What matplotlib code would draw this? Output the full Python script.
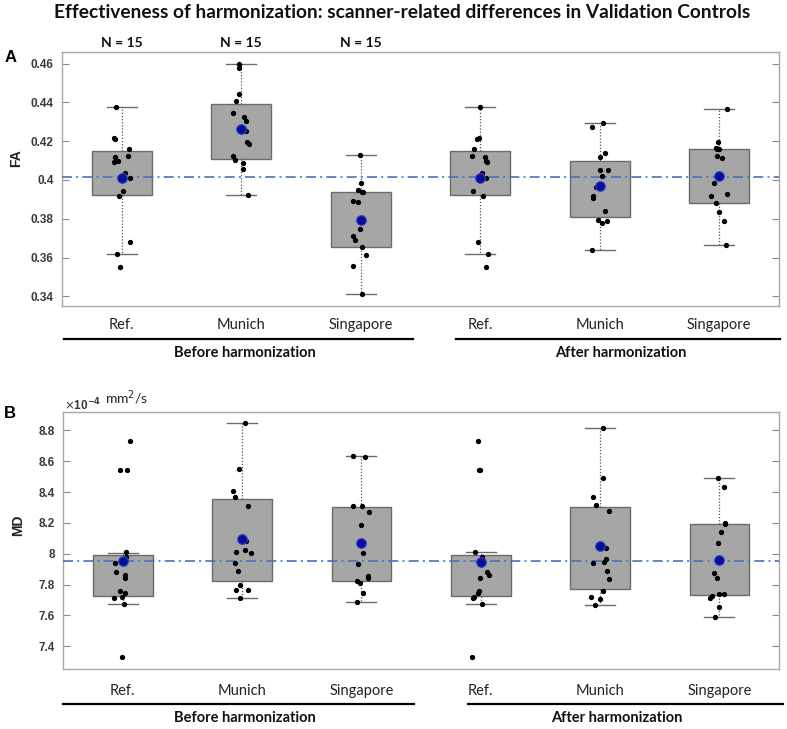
import matplotlib
matplotlib.use('Agg')
import matplotlib.pyplot as plt
from matplotlib.lines import Line2D
import matplotlib.transforms as mtransforms

# ---------------- data ----------------
categories = ["Ref.", "Munich", "Singapore", "Ref.", "Munich", "Singapore"]
groups = ["Before harmonization", "After harmonization"]
n_labels = ["N = 15", "N = 15", "N = 15"]

# FA values
fa_ref = [0.4375, 0.4214, 0.4209, 0.4159, 0.4124, 0.4116, 0.4097, 0.4092, 0.4037, 0.4009, 0.3944, 0.3917, 0.3680, 0.3620, 0.3551]
fa_mun_before = [0.4600, 0.4579, 0.4444, 0.4409, 0.4344, 0.4327, 0.4305, 0.4251, 0.4197, 0.4184, 0.4123, 0.4102, 0.4087, 0.4054, 0.3923]
fa_sin_before = [0.4128, 0.3984, 0.3949, 0.3939, 0.3937, 0.3894, 0.3884, 0.3793, 0.3748, 0.3712, 0.3688, 0.3656, 0.3614, 0.3558, 0.3414]
fa_mun_after = [0.4293, 0.4275, 0.4138, 0.4118, 0.4052, 0.4051, 0.4023, 0.3965, 0.3917, 0.3905, 0.3841, 0.3796, 0.3790, 0.3778, 0.3638]
fa_sin_after = [0.4368, 0.4198, 0.4164, 0.4162, 0.4160, 0.4123, 0.4112, 0.4021, 0.3982, 0.3929, 0.3917, 0.3879, 0.3836, 0.3790, 0.3664]

# FA box stats: q1, q3, whisker low, whisker high, mean
fa_q1 = [0.3920, 0.4107, 0.3656, 0.3920, 0.3808, 0.3879]
fa_q3 = [0.4148, 0.4392, 0.3939, 0.4148, 0.4100, 0.4162]
fa_lo = [0.3620, 0.3923, 0.3414, 0.3620, 0.3638, 0.3664]
fa_hi = [0.4375, 0.4600, 0.4128, 0.4375, 0.4293, 0.4368]
fa_mean = [0.4009, 0.4262, 0.3793, 0.4009, 0.3970, 0.4021]
fa_refline = 0.4016

# MD values (x 1e-4 mm^2/s)
md_ref = [8.729, 8.545, 8.540, 8.010, 7.976, 7.943, 7.883, 7.863, 7.841, 7.761, 7.744, 7.722, 7.714, 7.677, 7.331]
md_mun_before = [8.848, 8.547, 8.408, 8.365, 8.311, 8.086, 8.025, 8.010, 8.004, 7.937, 7.889, 7.800, 7.766, 7.766, 7.716]
md_sin_before = [8.633, 8.629, 8.311, 8.307, 8.272, 8.185, 8.073, 8.006, 7.932, 7.854, 7.846, 7.826, 7.809, 7.746, 7.686]
md_mun_after = [8.817, 8.488, 8.367, 8.313, 8.279, 8.038, 7.969, 7.947, 7.943, 7.887, 7.835, 7.757, 7.722, 7.705, 7.670]
md_sin_after = [8.488, 8.430, 8.198, 8.192, 8.140, 8.069, 7.958, 7.878, 7.841, 7.742, 7.742, 7.729, 7.716, 7.653, 7.593]

md_q1 = [7.729, 7.822, 7.826, 7.729, 7.774, 7.733]
md_q3 = [7.993, 8.352, 8.304, 7.993, 8.304, 8.192]
md_lo = [7.677, 7.716, 7.686, 7.677, 7.670, 7.593]
md_hi = [8.008, 8.848, 8.633, 8.010, 8.817, 8.488]
md_mean = [7.950, 8.097, 8.073, 7.947, 8.049, 7.958]
md_refline = 7.950

# horizontal jitter of the dots
jit_fa = [
    [-0.044, -0.067, -0.056, 0.058, 0.053, -0.056, -0.033, -0.067, 0.031, 0.072, 0.011, -0.019, 0.067, -0.042, -0.011],
    [-0.019, -0.019, -0.017, -0.042, -0.067, 0.025, 0.036, 0.042, 0.050, 0.069, -0.069, -0.053, 0.014, 0.014, 0.058],
    [-0.006, 0.003, -0.022, 0.022, 0.011, -0.061, -0.022, 0.0, -0.006, -0.064, -0.047, 0.014, 0.044, -0.067, 0.014],
    [0.0, -0.014, -0.028, -0.053, -0.069, 0.039, 0.050, 0.053, 0.011, 0.050, -0.058, 0.025, -0.019, 0.069, 0.044],
    [0.025, -0.064, 0.042, 0.0, 0.067, 0.0, 0.019, -0.033, -0.056, -0.053, 0.042, -0.014, 0.061, 0.022, -0.067],
    [0.061, -0.008, -0.031, -0.003, -0.017, -0.017, 0.022, 0.0, -0.044, 0.067, -0.072, -0.025, -0.006, 0.039, 0.058],
]
jit_md = [
    [0.058, -0.025, 0.039, 0.031, 0.025, -0.067, -0.058, 0.017, 0.017, -0.025, 0.022, -0.006, -0.072, 0.014, -0.003],
    [0.028, -0.022, -0.075, -0.056, 0.053, 0.036, 0.025, -0.047, 0.072, -0.058, -0.033, -0.019, -0.053, 0.053, -0.014],
    [-0.069, 0.031, 0.008, -0.072, 0.061, -0.003, 0.0, 0.017, -0.031, 0.058, 0.053, -0.036, -0.014, 0.011, -0.036],
    [-0.019, -0.017, -0.003, -0.050, 0.008, 0.003, 0.050, 0.067, -0.003, -0.011, -0.019, -0.056, -0.061, 0.011, -0.069],
    [0.025, 0.028, -0.056, -0.033, 0.072, 0.053, 0.050, 0.036, -0.056, 0.058, 0.072, 0.025, -0.075, 0.0, -0.044],
    [-0.008, 0.042, 0.044, 0.047, 0.017, -0.011, 0.0, -0.044, -0.022, 0.0, 0.042, -0.058, -0.075, -0.006, -0.033],
]

fa_sets = [fa_ref, fa_mun_before, fa_sin_before, fa_ref, fa_mun_after, fa_sin_after]
md_sets = [md_ref, md_mun_before, md_sin_before, md_ref, md_mun_after, md_sin_after]

# ---------------- figure ----------------
W, H = 787, 729
fig = plt.figure(figsize=(W / 100, H / 100), dpi=100)

def fx(x):
    return x / W

def fy(y):
    return 1 - y / H

LABEL_FONT = ['Lato', 'DejaVu Sans']
TICK_FONT = ['Liberation Sans', 'DejaVu Sans']

axA = fig.add_axes([fx(62), fy(306), (779 - 62) / W, (306 - 52) / H])
axB = fig.add_axes([fx(63), fy(669), (779 - 63) / W, (669 - 412) / H])

positions = [1, 2, 3, 4, 5, 6]


def draw_panel(ax, sets, jits, q1, q3, lo, hi, mean, refline, ylim, yticks, yticklabels):
    stats = []
    for i in range(len(sets)):
        stats.append(dict(med=mean[i], q1=q1[i], q3=q3[i], whislo=lo[i], whishi=hi[i],
                          mean=mean[i], fliers=[]))
    ax.bxp(stats, positions=positions, widths=0.5, patch_artist=True,
           showmeans=False, showfliers=False,
           boxprops=dict(facecolor='#a6a6a6', edgecolor='#6b6b6b', linewidth=1.0),
           medianprops=dict(linewidth=0),
           whiskerprops=dict(color='#555555', linestyle=(0, (1, 1.5)), linewidth=0.9),
           capprops=dict(color='#6b6b6b', linewidth=1.0), capwidths=0.25)
    ax.axhline(refline, color='#4a72b8', linestyle=(0, (6, 2.5, 1.2, 2.5)), linewidth=1.2, zorder=3)
    for i, vals in enumerate(sets):
        xs = [positions[i] + j for j in jits[i]]
        ax.plot(xs, vals, 'o', color='black', markersize=2.8, linestyle='none', zorder=4)
    ax.plot(positions, mean, 'o', markerfacecolor='#0b0b9c', markeredgecolor='#3447c4',
            markersize=7, markeredgewidth=0.8, linestyle='none', zorder=5)
    ax.set_xlim(0.5, 6.5)
    ax.set_ylim(*ylim)
    ax.set_yticks(yticks)
    ax.set_yticklabels(yticklabels, fontfamily=TICK_FONT, fontweight='bold', fontsize=8.5, color='#3a3a3a')
    ax.set_xticks([])
    ax.tick_params(axis='y', direction='in', length=5, color='#8a8a8a', right=True, pad=6)
    for s in ax.spines.values():
        s.set_color('#a8a8a8')
        s.set_linewidth(1.0)


draw_panel(axA, fa_sets, jit_fa, fa_q1, fa_q3, fa_lo, fa_hi, fa_mean, fa_refline,
           (0.335, 0.466), [0.34, 0.36, 0.38, 0.40, 0.42, 0.44, 0.46],
           ['0.34', '0.36', '0.38', '0.4', '0.42', '0.44', '0.46'])
draw_panel(axB, md_sets, jit_md, md_q1, md_q3, md_lo, md_hi, md_mean, md_refline,
           (7.253, 8.919), [7.4, 7.6, 7.8, 8.0, 8.2, 8.4, 8.6, 8.8],
           ['7.4', '7.6', '7.8', '8', '8.2', '8.4', '8.6', '8.8'])

# category labels under boxes
for ax, ypx, bot, top in [(axA, 325, 306, 52), (axB, 691, 669, 412)]:
    trans = mtransforms.blended_transform_factory(ax.transData, ax.transAxes)
    yfrac = (bot - ypx) / (bot - top)
    for p, c in zip(positions, categories):
        ax.text(p, yfrac, c, transform=trans, ha='center', va='center',
                fontfamily=LABEL_FONT, fontsize=10.5, color='#222222', clip_on=False)

# group underlines and group labels
for y_line, y_text, segs, centers in [
        (339, 353, [(64, 413), (456, 780)], [245, 621]),
        (704, 718, [(63, 414), (468, 783)], [245, 617])]:
    for (x0, x1), cx, g in zip(segs, centers, groups):
        fig.add_artist(Line2D([fx(x0), fx(x1)], [fy(y_line), fy(y_line)], color='black', linewidth=1.6))
        fig.text(fx(cx), fy(y_text), g, ha='center', va='center', fontfamily=LABEL_FONT,
                 fontweight='bold', fontsize=10.5, color='#111111')

# N labels
for p, t in zip(positions[:3], n_labels):
    trans = mtransforms.blended_transform_factory(axA.transData, fig.transFigure)
    axA.text(p, fy(43), t, transform=trans, ha='center', va='center', fontfamily=LABEL_FONT,
             fontweight='bold', fontsize=10, color='#111111', clip_on=False)

# title
fig.text(fx(402), fy(13), 'Effectiveness of harmonization: scanner-related differences in Validation Controls',
         ha='center', va='center', fontfamily=LABEL_FONT, fontweight='bold', fontsize=13.8, color='#111111')

# panel letters
fig.text(fx(11), fy(58), 'A', ha='center', va='center', fontfamily=TICK_FONT, fontweight='bold', fontsize=12)
fig.text(fx(10), fy(414), 'B', ha='center', va='center', fontfamily=TICK_FONT, fontweight='bold', fontsize=12)

# y labels
fig.text(fx(16), fy(158), 'FA', ha='center', va='center', rotation=90, fontfamily=TICK_FONT,
         fontweight='bold', fontsize=10, color='#222222')
fig.text(fx(18), fy(525), 'MD', ha='center', va='center', rotation=90, fontfamily=TICK_FONT,
         fontweight='bold', fontsize=10, color='#222222')

# exponent and unit
fig.text(fx(64), fy(405), r'$\times$10$^{\mathbf{-4}}$', ha='left', va='center', fontfamily=TICK_FONT,
         fontweight='bold', fontsize=8.5, color='#3a3a3a')
fig.text(fx(105), fy(398), 'mm$^2$/s', ha='left', va='center', fontfamily=LABEL_FONT,
         fontsize=10, color='#222222')

fig.savefig('out.png', dpi=100)
